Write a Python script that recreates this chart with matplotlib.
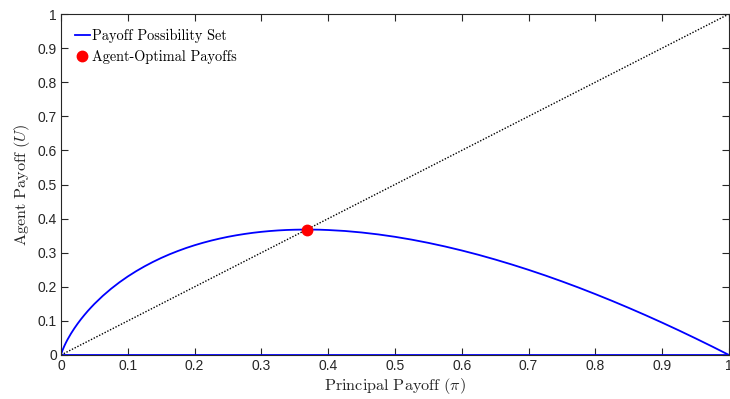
import matplotlib
matplotlib.use("Agg")
import matplotlib.pyplot as plt

plt.rcParams['mathtext.fontset'] = 'cm'

# Payoff possibility frontier
pi_vals = [0.0, 0.0002, 0.0005, 0.001, 0.002, 0.003, 0.005, 0.0075, 0.01, 0.015, 0.02,
           0.025, 0.03, 0.035, 0.04, 0.045, 0.05, 0.0625, 0.075, 0.0875, 0.1, 0.1125,
           0.125, 0.1375, 0.15, 0.1625, 0.175, 0.1875, 0.2, 0.2125, 0.225, 0.2375, 0.25,
           0.2625, 0.275, 0.2875, 0.3, 0.3125, 0.325, 0.3375, 0.35, 0.3625, 0.375, 0.3875,
           0.4, 0.425, 0.45, 0.475, 0.5, 0.525, 0.55, 0.575, 0.6, 0.625, 0.65, 0.675, 0.7,
           0.725, 0.75, 0.775, 0.8, 0.825, 0.85, 0.875, 0.9, 0.925, 0.95, 0.975, 1.0]
u_vals = [0.0, 0.0017, 0.0038, 0.0069, 0.0124, 0.0174, 0.0265, 0.0367, 0.0461, 0.0630, 0.0782,
          0.0922, 0.1052, 0.1173, 0.1288, 0.1395, 0.1498, 0.1733, 0.1943, 0.2132, 0.2303, 0.2458,
          0.2599, 0.2728, 0.2846, 0.2953, 0.3050, 0.3139, 0.3219, 0.3291, 0.3356, 0.3414, 0.3466,
          0.3511, 0.3550, 0.3584, 0.3612, 0.3635, 0.3653, 0.3666, 0.3674, 0.3678, 0.3678, 0.3674,
          0.3665, 0.3637, 0.3593, 0.3536, 0.3466, 0.3383, 0.3288, 0.3182, 0.3065, 0.2938, 0.2800,
          0.2653, 0.2497, 0.2332, 0.2158, 0.1976, 0.1785, 0.1587, 0.1381, 0.1168, 0.0948, 0.0721,
          0.0487, 0.0247, 0.0]
# Lower boundary of the set
base_pi = [0.0, 1.0]
base_u = [0.0, 0.0]
# 45-degree line
diag_pi = [0.0, 1.0]
diag_u = [0.0, 1.0]
# Agent-optimal payoffs
opt_pi = [0.368]
opt_u = [0.368]

ticks = [0, 0.1, 0.2, 0.3, 0.4, 0.5, 0.6, 0.7, 0.8, 0.9, 1]
tick_labels = ['0', '0.1', '0.2', '0.3', '0.4', '0.5', '0.6', '0.7', '0.8', '0.9', '1']

fig = plt.figure(figsize=(7.3, 3.99), dpi=100)
ax = fig.add_axes([61/730, 1-355/399, (729-61)/730, (355-14)/399])

blue = '#0000FF'
line_front, = ax.plot(pi_vals, u_vals, color=blue, lw=1.3, label='Payoff Possibility Set')
ax.plot(base_pi, base_u, color=blue, lw=1.3)
ax.plot(diag_pi, diag_u, color='black', lw=1.0, linestyle=(0, (1, 1.2)))
pt, = ax.plot(opt_pi, opt_u, 'o', color='#FF0000', markersize=7.5, label='Agent-Optimal Payoffs',
              zorder=5)

ax.set_xlim(0, 1)
ax.set_ylim(0, 1)
ax.set_xticks(ticks)
ax.set_xticklabels(tick_labels)
ax.set_yticks(ticks)
ax.set_yticklabels(tick_labels)

dark = '#262626'
for s in ax.spines.values():
    s.set_color(dark)
    s.set_linewidth(0.8)
ax.tick_params(direction='in', length=5, width=0.8, colors=dark, top=True, right=True,
               labelsize=10, pad=3)
for lab in ax.get_xticklabels() + ax.get_yticklabels():
    lab.set_family('Liberation Sans')

ax.set_xlabel(r'$\mathrm{Principal\ Payoff}\ (\pi)$', fontsize=11.7, color=dark, labelpad=2)
ax.set_ylabel(r'$\mathrm{Agent\ Payoff}\ (U)$', fontsize=11.7, color=dark, labelpad=4)

leg = ax.legend(handles=[line_front, pt], loc='upper left', frameon=False,
                prop={'family': 'cmr10', 'size': 10.3}, handlelength=1.0, handletextpad=0.2,
                borderaxespad=0.5, labelspacing=0.55, borderpad=0.5)

fig.savefig('out.png', dpi=100)
